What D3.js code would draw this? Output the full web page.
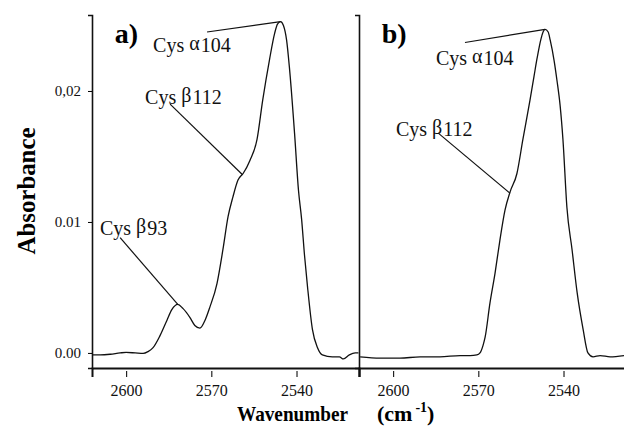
<!DOCTYPE html>
<html>
<head>
<meta charset="utf-8">
<script src="https://cdn.jsdelivr.net/npm/d3@7"></script>
<style>
  body { margin: 0; background: #fff; }
  svg { font-family: "Liberation Serif", "Times New Roman", serif; }
</style>
</head>
<body>
<svg id="chart" width="624" height="433"></svg>
<script>
// wavenumber (cm-1) / absorbance
const waveA = [2611.9, 2609.1, 2605.6, 2602.1, 2600.0, 2596.8, 2594.0, 2592.3, 2590.5, 2588.1,
  2585.6, 2583.9, 2581.8, 2580.0, 2577.5, 2575.8, 2574.0, 2572.2, 2570.5, 2568.0,
  2565.9, 2564.1, 2562.4, 2560.6, 2558.8, 2556.4, 2553.9, 2551.9, 2549.5, 2547.7,
  2546.7, 2545.6, 2544.6, 2543.5, 2542.5, 2540.7, 2539.3, 2538.2, 2537.2, 2536.1,
  2534.4, 2532.6, 2530.9, 2527.4, 2524.9, 2523.5, 2521.4, 2519.3, 2518.2];
const absA = [-0.00015, -0.00015, -0.0001, 0, 0.00004, 0, -0.00004, 0.0001, 0.0004, 0.0013,
  0.0025, 0.0033, 0.0037, 0.0034, 0.0027, 0.0021, 0.0019, 0.0025, 0.0035, 0.0053,
  0.0079, 0.0104, 0.0119, 0.0132, 0.0137, 0.0147, 0.0163, 0.0193, 0.0224, 0.0244,
  0.0251, 0.0253, 0.0250, 0.0239, 0.0218, 0.0168, 0.0124, 0.0102, 0.0075, 0.0050,
  0.0018, 0.0004, -0.00015, -0.0003, -0.0003, -0.00046, -0.00015, 0, 0];

const waveB = [2611.6, 2604.6, 2597.6, 2590.5, 2583.5, 2576.4, 2572.9, 2570.5, 2569.4, 2568.3,
  2567.6, 2565.9, 2564.1, 2562.4, 2560.6, 2558.8, 2556.4, 2554.3, 2551.8, 2550.4,
  2549.3, 2547.9, 2547.2, 2546.5, 2545.4, 2544.7, 2543.3, 2542.3, 2541.2, 2540.2,
  2538.8, 2537.0, 2535.2, 2533.1, 2531.4, 2529.6, 2527.1, 2523.6, 2518.7];
const absB = [-0.0003, -0.0004, -0.0004, -0.0003, -0.0003, -0.0002, -0.0002, -0.00015, 0, 0.0006,
  0.0012, 0.0038, 0.0061, 0.0086, 0.0109, 0.0123, 0.0137, 0.0163, 0.0193, 0.0211,
  0.0225, 0.0240, 0.0245, 0.0247, 0.0245, 0.0239, 0.0223, 0.0208, 0.0189, 0.0163,
  0.0111, 0.0079, 0.0046, 0.0018, 0, -0.0003, -0.0002, -0.0003, -0.0002];

const xTicks = [2600, 2570, 2540];
const yTicks = [0, 0.01, 0.02];
const yTickLabels = ["0.00", "0.01", "0,02"];

// peak labels: text anchor, leader start, leader end (wavenumber, absorbance)
const labelsA = [
  { name: "Cys ", greek: "α", num: "104", tx: 2590.5, ty: 0.0230, x1: 2571.5, y1: 0.0245, x2: 2545.6, y2: 0.0253 },
  { name: "Cys ", greek: "β", num: "112", tx: 2593.3, ty: 0.0190, x1: 2584.5, y1: 0.0190, x2: 2559.0, y2: 0.0136 },
  { name: "Cys ", greek: "β", num: "93", tx: 2609.2, ty: 0.0090, x1: 2602.1, y1: 0.0088, x2: 2581.8, y2: 0.0037 }
];
const labelsB = [
  { name: "Cys ", greek: "α", num: "104", tx: 2584.9, ty: 0.0220, x1: 2574.7, y1: 0.0237, x2: 2546.5, y2: 0.0247 },
  { name: "Cys ", greek: "β", num: "112", tx: 2599.0, ty: 0.0166, x1: 2584.2, y1: 0.0168, x2: 2558.9, y2: 0.0122 }
];

const svg = d3.select("#chart");
const plotTop = 15, plotBottom = 368;
const xDomain = [2612, 2518];

const y = d3.scaleLinear().domain([-0.00115, 0.0258]).range([plotBottom, plotTop]);

const panels = [
  { tag: "a)", left: 92, right: 359, wave: waveA, abs: absA, labels: labelsA, yTicks: true },
  { tag: "b)", left: 359, right: 626, wave: waveB, abs: absB, labels: labelsB, yTicks: false }
];

panels.forEach(p => {
  const x = d3.scaleLinear().domain(xDomain).range([p.left, p.right]);
  const g = svg.append("g");

  // bottom axis
  const xAxis = g.append("g")
    .attr("transform", `translate(0,${plotBottom})`)
    .call(d3.axisBottom(x).tickValues(xTicks).tickFormat(d3.format("d"))
      .tickSizeOuter(0).tickSize(9).tickPadding(8));
  xAxis.select(".domain").attr("stroke", "#111").attr("stroke-width", 2);
  xAxis.selectAll(".tick line").attr("y1", 3).attr("stroke", "#222").attr("stroke-width", 1.2);
  xAxis.selectAll(".tick text")
    .attr("fill", "#111")
    .style("font-size", "16px")
    .style("font-family", "Liberation Serif, serif");

  // left axis (panel b just gets the divider line)
  const yAxis = g.append("g")
    .attr("transform", `translate(${p.left},0)`)
    .call(d3.axisLeft(y)
      .tickValues(p.yTicks ? yTicks : [])
      .tickFormat((d, i) => yTickLabels[i])
      .tickSizeOuter(0).tickSize(4).tickPadding(7));
  yAxis.select(".domain").attr("stroke", "#111").attr("stroke-width", 1.6);
  yAxis.selectAll(".tick text")
    .attr("fill", "#111")
    .style("font-size", "15px")
    .style("font-family", "Liberation Serif, serif");

  // spectrum
  const line = d3.line()
    .x((d, i) => x(p.wave[i]))
    .y(d => y(d))
    .curve(d3.curveMonotoneX);
  g.append("path")
    .datum(p.abs)
    .attr("d", line)
    .attr("fill", "none")
    .attr("stroke", "#111")
    .attr("stroke-width", 1.3);

  // panel tag
  g.append("text")
    .attr("x", x(2604))
    .attr("y", y(0.0237))
    .style("font-size", "28px")
    .style("font-weight", "bold")
    .text(p.tag);

  // peak labels + leader lines
  p.labels.forEach(l => {
    g.append("line")
      .attr("x1", x(l.x1)).attr("y1", y(l.y1))
      .attr("x2", x(l.x2)).attr("y2", y(l.y2))
      .attr("stroke", "#111").attr("stroke-width", 1.2);
    const t = g.append("text")
      .attr("x", x(l.tx))
      .attr("y", y(l.ty))
      .style("font-size", "20px")
      .attr("fill", "#111");
    t.append("tspan").text(l.name);
    t.append("tspan").attr("dy", -2).text(l.greek);
    t.append("tspan").attr("dy", 2).attr("dx", 1).text(l.num);
  });
});

// axis titles
svg.append("text")
  .attr("transform", "translate(35,191) rotate(-90)")
  .attr("text-anchor", "middle")
  .style("font-size", "25px")
  .style("font-weight", "bold")
  .attr("textLength", 127)
  .attr("lengthAdjust", "spacingAndGlyphs")
  .text("Absorbance");

svg.append("text")
  .attr("x", 237)
  .attr("y", 421)
  .style("font-size", "22px")
  .style("font-weight", "bold")
  .attr("textLength", 111)
  .attr("lengthAdjust", "spacingAndGlyphs")
  .text("Wavenumber");

const unit = svg.append("text")
  .attr("x", 377)
  .attr("y", 421)
  .style("font-size", "22px")
  .style("font-weight", "bold");
unit.append("tspan").text("(cm");
unit.append("tspan").attr("dy", -9).attr("dx", 3).style("font-size", "14px").text("-1");
unit.append("tspan").attr("dy", 9).text(")");
</script>
</body>
</html>
